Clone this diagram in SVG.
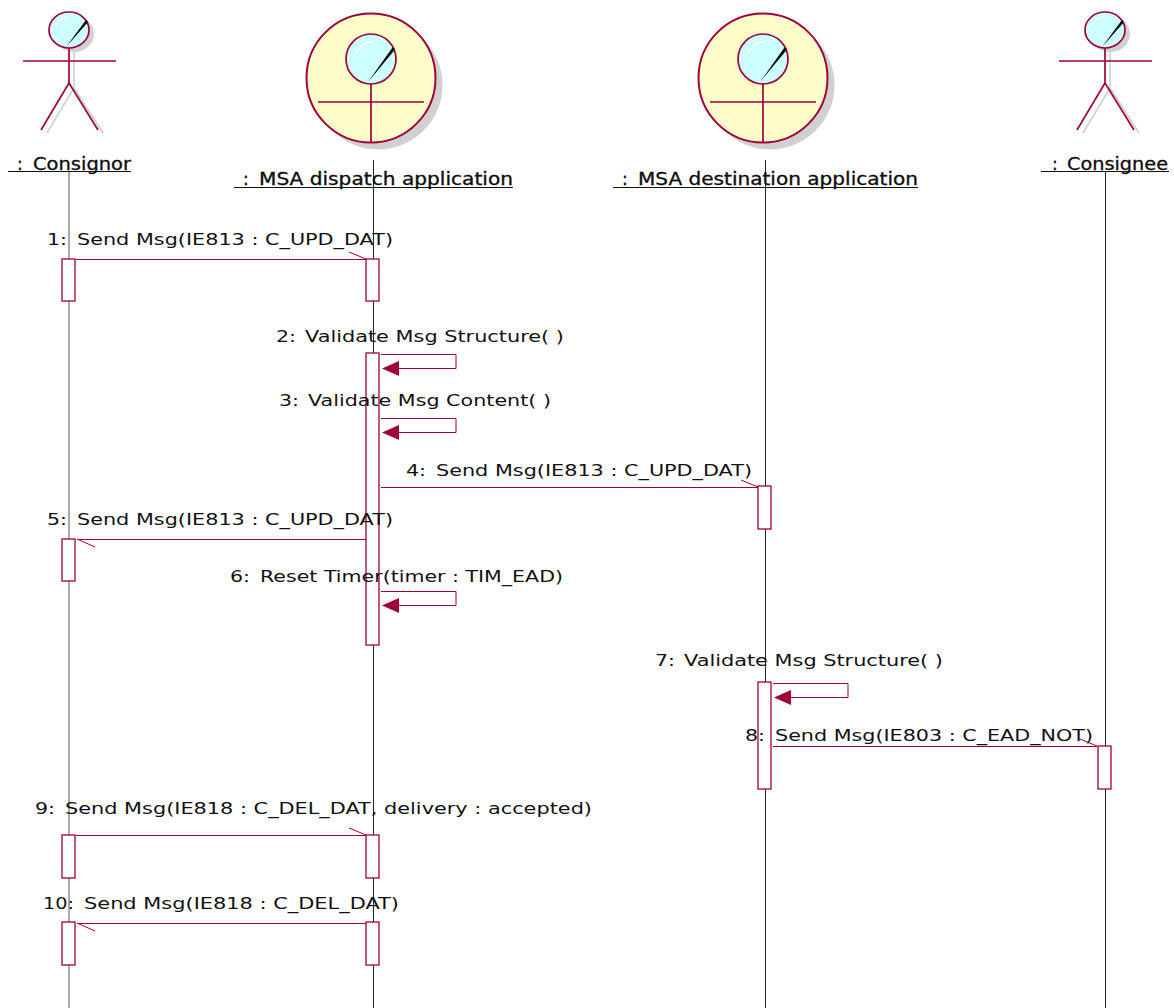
<svg xmlns="http://www.w3.org/2000/svg" width="1174" height="1008" viewBox="0 0 1174 1008">
<style>
text{font-family:"DejaVu Sans",sans-serif;font-size:16.5px;fill:#111}
.t{stroke:#000;stroke-width:.3;font-size:17px}
.l{stroke:#222;stroke-width:1;fill:none}
.g1{stroke:#555;stroke-width:1;fill:none}
.m{stroke:#a0003a;stroke-width:1;fill:none}
.a{fill:#fff;stroke:#a0003a;stroke-width:1.3}
.h{fill:#a0003a;stroke:none}
.s{fill:none;stroke:#d0d0d0;stroke-width:1.6}
.f{fill:none;stroke:#a0003a;stroke-width:1.7}
.u{stroke:#111;stroke-width:1.2}
.hd{fill:#ccffff;stroke:#a0003a;stroke-width:1.7}
.g{fill:none;stroke:#fff;stroke-width:1.3}
</style>
<defs>
<g id="actor">
<ellipse cx="5" cy="34" rx="20" ry="18" fill="#d0d0d0"/>
<path d="M5 50V88L-22 133M5 88L34 133" class="s"/>
<ellipse cy="30" rx="20" ry="18" class="hd"/>
<path d="M-13 26A14 13 0 0 1 -1 17" class="g"/>
<path d="M-3 47L19 22L17 20Z" fill="#000"/>
<path d="M0 48V83L-28 130M0 83L29 130M-46 61H47" class="f"/>
</g>
<g id="control">
<circle cx="7" cy="7" r="64.500" fill="#d0d0d0"/>
<circle r="64.500" fill="#ffffcc" stroke="#a0003a" stroke-width="2"/>
<circle cy="-19" r="25" class="hd"/>
<path d="M-15 -24.500A20 20 0 0 1 1 -36.500" class="g" stroke-width="1.5"/>
<path d="M-3 4L24 -28.500L21.500 -30.500Z" fill="#000"/>
<path d="M0 6V64M-53 24H53" class="f"/>
</g>
</defs>
<rect width="1174" height="1008" fill="#fff"/>
<g id="connectors">
<path class="g1" d="M69 172V1008"/>
<path class="l" d="M373.500 160V1008M765.500 160V1008M1105.500 172V1008"/>
<path class="m" d="M76 259.500H366M349 252L366 259"/>
<path class="m" d="M381 354.500H456V368.500H398"/><path class="h" d="M382 368.500L399 361V376Z"/>
<path class="m" d="M381 418.500H456V432.500H398"/><path class="h" d="M382 432.500L399 425V440Z"/>
<path class="m" d="M381 487.500H758M741 480L758 487"/>
<path class="m" d="M366 539.500H77M77 539L95 547"/>
<path class="m" d="M381 591.500H456V605.500H398"/><path class="h" d="M382 605.500L399 598V613Z"/>
<path class="m" d="M773 683.500H848V697.500H790"/><path class="h" d="M774 697.500L791 690V705Z"/>
<path class="m" d="M773 746.500H1097M1080 739L1097 746"/>
<path class="m" d="M76 835.500H366M349 828L366 835"/>
<path class="m" d="M366 923.500H77M77 923L95 931"/>
</g>
<g id="activations">
<rect class="a" x="62" y="259" width="13" height="42"/>
<rect class="a" x="366" y="259" width="13" height="42"/>
<rect class="a" x="366" y="353" width="13" height="292"/>
<rect class="a" x="758" y="486" width="13" height="43"/>
<rect class="a" x="62" y="539" width="13" height="42"/>
<rect class="a" x="758" y="682" width="13" height="107"/>
<rect class="a" x="1098" y="746" width="13" height="43"/>
<rect class="a" x="62" y="835" width="13" height="43"/>
<rect class="a" x="366" y="835" width="13" height="43"/>
<rect class="a" x="62" y="922" width="13" height="43"/>
<rect class="a" x="366" y="922" width="13" height="43"/>
</g>
<g id="consignor"><use href="#actor" x="69"/><text class="t" x="17" y="170">: <tspan x="33" textLength="98" lengthAdjust="spacingAndGlyphs">Consignor</tspan></text><path class="u" d="M8 171.500H131"/></g>
<g id="dispatch"><use href="#control" x="371" y="78"/><text class="t" x="243" y="185">: <tspan x="259" textLength="254" lengthAdjust="spacingAndGlyphs">MSA dispatch application</tspan></text><path class="u" d="M234 187.500H513"/></g>
<g id="destination"><use href="#control" x="763" y="78"/><text class="t" x="622" y="185">: <tspan x="638" textLength="280" lengthAdjust="spacingAndGlyphs">MSA destination application</tspan></text><path class="u" d="M613 187.500H918"/></g>
<g id="consignee"><use href="#actor" x="1105"/><text class="t" x="1052" y="170">: <tspan x="1067" textLength="101" lengthAdjust="spacingAndGlyphs">Consignee</tspan></text><path class="u" d="M1041 171.500H1169"/></g>
<g id="labels">
<text x="47" y="244.500"><tspan textLength="20" lengthAdjust="spacingAndGlyphs">1:</tspan> <tspan x="77" textLength="316" lengthAdjust="spacingAndGlyphs">Send Msg(IE813 : C_UPD_DAT)</tspan></text>
<text x="276" y="341.500"><tspan textLength="20" lengthAdjust="spacingAndGlyphs">2:</tspan> <tspan x="305" textLength="259" lengthAdjust="spacingAndGlyphs">Validate Msg Structure( )</tspan></text>
<text x="279" y="405.500"><tspan textLength="20" lengthAdjust="spacingAndGlyphs">3:</tspan> <tspan x="308" textLength="243" lengthAdjust="spacingAndGlyphs">Validate Msg Content( )</tspan></text>
<text x="406" y="475.500"><tspan textLength="20" lengthAdjust="spacingAndGlyphs">4:</tspan> <tspan x="436" textLength="316" lengthAdjust="spacingAndGlyphs">Send Msg(IE813 : C_UPD_DAT)</tspan></text>
<text x="47" y="524.500"><tspan textLength="20" lengthAdjust="spacingAndGlyphs">5:</tspan> <tspan x="77" textLength="316" lengthAdjust="spacingAndGlyphs">Send Msg(IE813 : C_UPD_DAT)</tspan></text>
<text x="230" y="581.500"><tspan textLength="20" lengthAdjust="spacingAndGlyphs">6:</tspan> <tspan x="260" textLength="303" lengthAdjust="spacingAndGlyphs">Reset Timer(timer : TIM_EAD)</tspan></text>
<text x="655" y="665.500"><tspan textLength="20" lengthAdjust="spacingAndGlyphs">7:</tspan> <tspan x="684" textLength="259" lengthAdjust="spacingAndGlyphs">Validate Msg Structure( )</tspan></text>
<text x="745" y="740.500"><tspan textLength="20" lengthAdjust="spacingAndGlyphs">8:</tspan> <tspan x="775" textLength="318" lengthAdjust="spacingAndGlyphs">Send Msg(IE803 : C_EAD_NOT)</tspan></text>
<text x="35" y="813.500"><tspan textLength="20" lengthAdjust="spacingAndGlyphs">9:</tspan> <tspan x="65" textLength="527" lengthAdjust="spacingAndGlyphs">Send Msg(IE818 : C_DEL_DAT, delivery : accepted)</tspan></text>
<text x="43" y="908.500"><tspan textLength="31" lengthAdjust="spacingAndGlyphs">10:</tspan> <tspan x="84" textLength="315" lengthAdjust="spacingAndGlyphs">Send Msg(IE818 : C_DEL_DAT)</tspan></text>
</g>
</svg>
